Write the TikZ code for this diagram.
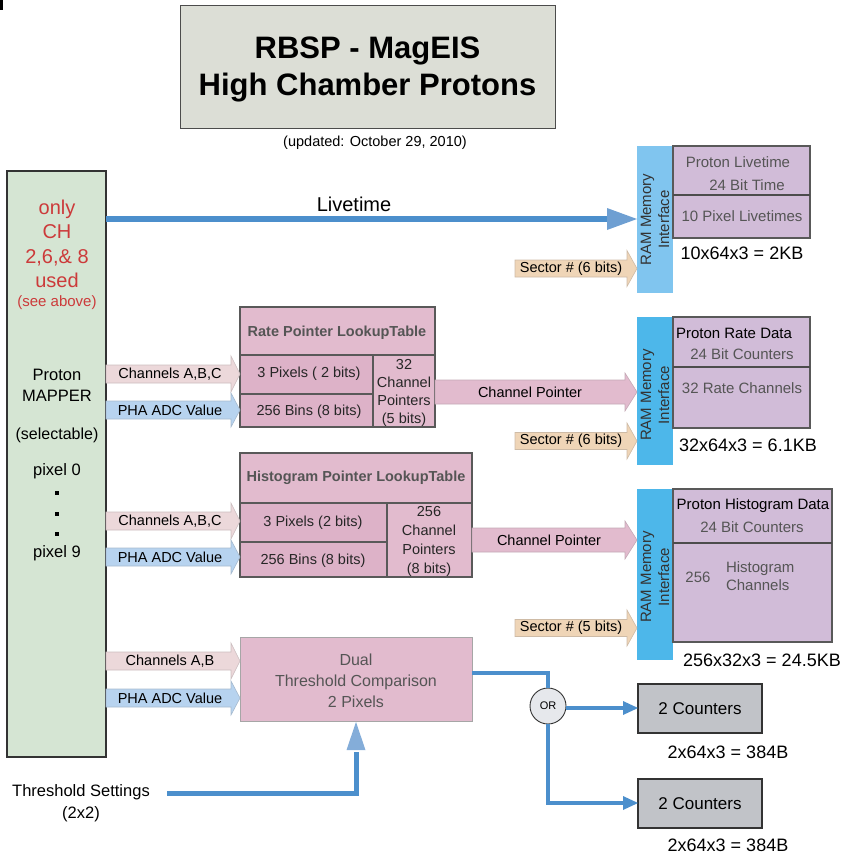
\documentclass[tikz,border=0pt]{standalone}
\usepackage{fontspec}
\setmainfont{Liberation Sans}
\usetikzlibrary{calc}
\definecolor{titlebg}{HTML}{DCDED6}
\definecolor{mapgreen}{HTML}{D5E5D3}
\definecolor{redtxt}{HTML}{CC3A3A}
\definecolor{lutpink}{HTML}{E2BBCE}
\definecolor{lutdark}{HTML}{DDB2C8}
\definecolor{lav}{HTML}{D1BCD8}
\definecolor{ramone}{HTML}{80C5EF}
\definecolor{ramtwo}{HTML}{4DB7EA}
\definecolor{tan}{HTML}{EFD5B7}
\definecolor{palepink}{HTML}{ECD8DA}
\definecolor{paleblue}{HTML}{B7D3EF}
\definecolor{lineblue}{HTML}{4C8FCC}
\definecolor{headblue}{HTML}{6E9FD2}
\definecolor{grayctr}{HTML}{C1C3C8}
\definecolor{orfill}{HTML}{E6E8EC}
\definecolor{txtgray}{HTML}{555555}
\newcommand{\fsz}[2]{\fontsize{#1}{#2}\selectfont}
% block arrow: fill, draw, x1, x2, yc, body half, head half, head length
\newcommand{\barrow}[8]{%
  \filldraw[fill=#1, draw=#2, line width=0.6pt]
    ({#3},{#5-#6}) -- ({#4-#8},{#5-#6}) -- ({#4-#8},{#5-#7}) -- ({#4},{#5})
    -- ({#4-#8},{#5+#7}) -- ({#4-#8},{#5+#6}) -- ({#3},{#5+#6}) -- cycle;}
\begin{document}
\begin{tikzpicture}[x=1pt,y=-1pt,
  every node/.style={inner sep=0pt, outer sep=0pt},
  boxnw/.style={anchor=north west, inner sep=0pt},
  lutline/.style={draw=black!65, line width=1.4pt},
  lavline/.style={draw=black!65, line width=1.4pt},
  arrtxt/.style={font=\fsz{14.5}{17}, text=black},
  celltxt/.style={font=\fsz{14.5}{18}, text=black!85, align=center},
  hdrtxt/.style={font=\fsz{14.5}{17}\bfseries, text=txtgray},
  datatxt/.style={font=\fsz{15}{18}, text=txtgray},
  sizetxt/.style={font=\fsz{18}{21}, text=black},
  ramtxt/.style={font=\fsz{15}{18}, rotate=90, align=center, text=black!80},
  thickblue/.style={draw=lineblue, line width=5.5pt},
  thinblue/.style={draw=lineblue, line width=3.5pt}
]
\useasboundingbox (0,0) rectangle (846,855);

% corner mark
\fill[black] (0,0) rectangle (2.5,10);

% title
\node[boxnw, draw=black!70, line width=1pt, fill=titlebg, minimum width=375pt, minimum height=123pt] (title) at (180,5) {};
\node[font=\fsz{31}{38}\bfseries] (t1) at (367.5,51) {RBSP - MagEIS};
\node[font=\fsz{31}{38}\bfseries] (t2) at (367.5,88) {High Chamber Protons};
\node[font=\fsz{14.5}{17}] (upd) at (375,143) {(updated: October 29, 2010)};

% mapper box
\node[boxnw, draw=black!80, line width=1.1pt, fill=mapgreen, minimum width=99pt, minimum height=586pt] (mapper) at (7,171) {};
\node[font=\fsz{20}{24.5}, text=redtxt, align=center] (red) at (57,244) {only\\CH\\2,6,\& 8\\used};
\node[font=\fsz{15}{18}, text=redtxt] (see) at (57,303) {(see above)};
\node[font=\fsz{16.5}{21}, align=center] (pm) at (57,385) {Proton\\MAPPER};
\node[font=\fsz{16}{19}] (sel) at (57,435) {(selectable)};
\node[font=\fsz{16.5}{19}] (p0) at (57,471) {pixel 0};
\foreach \yy/\nm in {493/d1,514/d2,534/d3}{\fill (55,\yy-2) rectangle (59,\yy+2);}
\node[font=\fsz{16.5}{19}] (p9) at (57,553) {pixel 9};

% RAM 1 + livetime table
\node[boxnw, fill=ramone, minimum width=36pt, minimum height=147pt] (ram1) at (637,146) {};
\node[ramtxt] at (ram1.center) {RAM Memory\\Interface};
\node[boxnw, fill=lav, lavline, minimum width=137pt, minimum height=92pt] (lt) at (673,146) {};
\draw[draw=black!70, line width=2pt] (673,195) -- (810,195);
\node[datatxt] at (738,162) {Proton Livetime};
\node[datatxt] at (747,185) {24 Bit Time};
\node[datatxt] at (742,216) {10 Pixel Livetimes};
\node[sizetxt] at (742,253) {10x64x3 = 2KB};

% Livetime connector
\coordinate (ltA) at (mapper.east |- 0,219);
\coordinate (ltB) at (607,219);
\draw[thickblue] (ltA) -- (ltB);
\fill[headblue] (607,208) -- (ram1.west |- 0,219) -- (607,230) -- cycle;
\node[font=\fsz{20}{24}] (ltlabel) at (354,204) {Livetime};

% Sector 1
\barrow{tan}{tan!70!gray}{515}{637}{268.5}{8.5}{18}{10}
\node[arrtxt] at (571,268.5) {Sector \# (6 bits)};

% Rate LUT
\node[boxnw, fill=lutpink, lutline, minimum width=195pt, minimum height=120pt] (rlut) at (240,307) {};
\fill[lutdark] (240,355) rectangle (373,427);
\draw[draw=black!65, line width=1.4pt] (240,307) rectangle (435,427);
\draw[draw=black!65, line width=1.4pt] (240,355) -- (435,355) (373,355) -- (373,427) (240,394) -- (373,394);
\node[hdrtxt] at (337,333) {Rate Pointer LookupTable};
\node[celltxt] at (309,374) {3 Pixels ( 2 bits)};
\node[celltxt] at (309,412) {256 Bins (8 bits)};
\node[celltxt, font=\fsz{14.5}{18}] at (404,393) {32\\Channel\\Pointers\\(5 bits)};

\barrow{palepink}{palepink!70!gray}{106}{240}{374}{9}{18}{9}
\node[arrtxt] at (170,374) {Channels A,B,C};
\barrow{paleblue}{paleblue!70!gray}{106}{240}{410}{9}{17}{9}
\node[arrtxt] at (170,410) {PHA ADC Value};

% RAM 2 + rate table
\node[boxnw, fill=ramtwo, minimum width=36pt, minimum height=148pt] (ram2) at (637,317) {};
\node[ramtxt] at (655,395) {RAM Memory\\Interface};
\node[boxnw, fill=lav, lavline, minimum width=137pt, minimum height=111pt] (rd) at (673,317) {};
\draw[draw=black!70, line width=2pt] (673,367) -- (810,367);
\node[datatxt, text=black] at (734,333) {Proton Rate Data};
\node[datatxt] at (742,354) {24 Bit Counters};
\node[datatxt] at (742,388) {32 Rate Channels};
\node[sizetxt] at (748,445) {32x64x3 = 6.1KB};

\barrow{lutpink}{lutpink!70!gray}{435}{637}{392}{12}{19}{12}
\node[arrtxt] at (530,392) {Channel Pointer};
\barrow{tan}{tan!70!gray}{515}{637}{441}{8.5}{18}{10}
\node[arrtxt] at (571,441) {Sector \# (6 bits)};

% Histogram LUT
\node[boxnw, fill=lutpink, minimum width=232pt, minimum height=124pt] (hlut) at (240,453) {};
\fill[lutdark] (240,503) rectangle (387,577);
\draw[draw=black!65, line width=1.4pt] (240,453) rectangle (472,577);
\draw[draw=black!65, line width=1.4pt] (240,503) -- (472,503) (387,503) -- (387,577) (240,542) -- (387,542);
\node[hdrtxt] at (356,478) {Histogram Pointer LookupTable};
\node[celltxt] at (313,523) {3 Pixels (2 bits)};
\node[celltxt] at (313,561) {256 Bins (8 bits)};
\node[celltxt, font=\fsz{14.5}{19}] at (429,541) {256\\Channel\\Pointers\\(8 bits)};

\barrow{palepink}{palepink!70!gray}{106}{240}{521}{9}{18}{9}
\node[arrtxt] at (170,521) {Channels A,B,C};
\barrow{paleblue}{paleblue!70!gray}{106}{240}{557}{9}{17}{9}
\node[arrtxt] at (170,557) {PHA ADC Value};

% RAM 3 + histogram table
\node[boxnw, fill=ramtwo, minimum width=36pt, minimum height=171pt] (ram3) at (637,489) {};
\node[ramtxt] at (655,577) {RAM Memory\\Interface};
\node[boxnw, fill=lav, lavline, minimum width=159pt, minimum height=153pt] (hd) at (673,489) {};
\draw[draw=black!70, line width=2pt] (673,543) -- (832,543);
\node[datatxt, text=black] at (753,506) {Proton Histogram Data};
\node[datatxt] at (752,527) {24 Bit Counters};
\node[datatxt] at (698,577) {256};
\node[datatxt, anchor=west, align=left] at (726,576) {Histogram\\Channels};
\node[sizetxt] at (762,660) {256x32x3 = 24.5KB};

\barrow{lutpink}{lutpink!70!gray}{472}{637}{540}{12}{19}{12}
\node[arrtxt] at (549,540) {Channel Pointer};
\barrow{tan}{tan!70!gray}{515}{637}{628}{8.5}{18}{10}
\node[arrtxt] at (571,628) {Sector \# (5 bits)};

% Threshold comparison
\node[boxnw, fill=lutpink, draw=black!35, line width=1pt, minimum width=232pt, minimum height=84pt] (thr) at (240,637) {};
\node[font=\fsz{16}{21}, text=txtgray, align=center] at (356,681) {Dual\\Threshold Comparison\\2 Pixels};

\barrow{palepink}{palepink!70!gray}{106}{240}{661}{9}{18}{9}
\node[arrtxt] at (170,661) {Channels A,B};
\barrow{paleblue}{paleblue!70!gray}{106}{240}{698}{9}{17}{9}
\node[arrtxt] at (170,698) {PHA ADC Value};

% Threshold settings
\node[font=\fsz{16.5}{22}, align=center] (ts) at (81,803) {Threshold Settings\\(2x2)};
\coordinate (tsA) at (167,793);
\coordinate (tsB) at (356,793);
\coordinate (tsC) at (356,752);
\draw[thickblue, line width=5pt] (tsA) -- (tsB) -- (tsC);
\fill[headblue!85!white] (346.5,750) -- (356,722) -- (365.5,750) -- cycle;

% OR and counters
\node[circle, draw=black!80, line width=0.9pt, fill=orfill, minimum size=36pt, font=\fsz{11}{13}] (or) at (548,706) {OR};
\coordinate (thrOut) at (thr.east |- 0,673);
\draw[thinblue] (thrOut) -- (548,673) -- (or.north);
\node[boxnw, draw=black!80, line width=1.1pt, fill=grayctr, minimum width=124pt, minimum height=49pt, font=\fsz{17}{20}] (c1) at (638,684) {};
\node[font=\fsz{17}{20}] at (c1.center) {2 Counters};
\node[boxnw, draw=black!80, line width=1.1pt, fill=grayctr, minimum width=124pt, minimum height=49pt] (c2) at (638,779) {};
\node[font=\fsz{17}{20}] at (c2.center) {2 Counters};
\draw[thinblue] (or.east |- 0,708) -- (624,708);
\fill[lineblue] (623,701) -- (c1.west |- 0,708) -- (623,715) -- cycle;
\draw[thinblue] (or.south) -- (548,803) -- (624,803);
\fill[lineblue] (623,796) -- (c2.west |- 0,803) -- (623,810) -- cycle;
\node[sizetxt] at (728,752) {2x64x3 = 384B};
\node[sizetxt] at (728,845) {2x64x3 = 384B};
\end{tikzpicture}
\end{document}
